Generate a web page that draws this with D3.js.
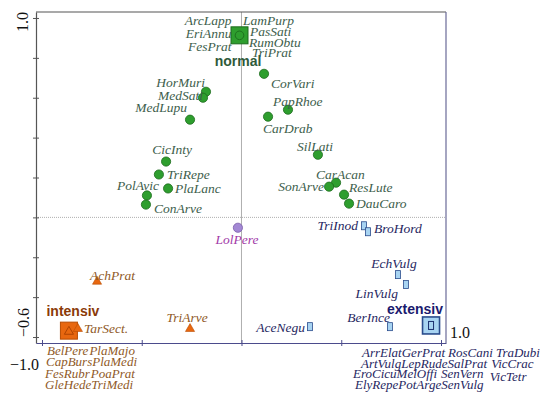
<!DOCTYPE html>
<html>
<head>
<meta charset="utf-8">
<script src="https://cdn.jsdelivr.net/npm/d3@7"></script>
<style>
  body { margin: 0; background: #fff; }
  .lab { font-family: "Liberation Serif", "Times New Roman", serif; font-style: italic; font-size: 13.5px; }
  .grp { font-family: "Liberation Sans", Arial, sans-serif; font-weight: bold; font-size: 14px; }
  .num { font-family: "Liberation Serif", "Times New Roman", serif; font-size: 16px; fill: #111; }
</style>
</head>
<body>
<div id="chart"></div>
<script>
// group centroids (axis 1 / axis 2 scores)
var centroidNames = ["normal", "intensiv", "extensiv"];
var centroidX = [-0.01, -0.865, 0.95];
var centroidY = [0.913, -0.568, -0.542];

// species sitting on top of a centroid
var normalAtCentroid = ["ArcLapp", "EriAnnu", "FesPrat", "LamPurp", "PasSati", "RumObtu", "TriPrat"];
var intensivAtCentroid = ["BelPere", "CapBurs", "FesRubr", "GleHede", "PlaMajo", "PlaMedi", "PoaPrat", "TriMedi"];
var extensivAtCentroid = ["ArrElat", "ArtVulg", "EroCicu", "ElyRepe", "GerPrat", "LepRude", "MelOffi", "PotArge",
                          "RosCani", "SalPrat", "SenVern", "SenVulg", "TraDubi", "VicCrac", "VicTetr"];

// other species
var speciesNames = ["CorVari", "HorMuri", "MedSati", "MedLupu", "PapRhoe", "CarDrab", "CicInty", "TriRepe",
                    "PlaLanc", "PolAvic", "ConArve", "SilLati", "CarAcan", "SonArve", "ResLute", "DauCaro",
                    "LolPere",
                    "TarSect.", "AchPrat", "TriArve",
                    "TriInod", "BroHord", "EchVulg", "LinVulg", "BerInce", "AceNegu"];
var speciesX = [0.113, -0.178, -0.193, -0.258, 0.233, 0.133, -0.378, -0.414,
                -0.368, -0.474, -0.479, 0.383, 0.474, 0.439, 0.514, 0.539,
                -0.018,
                -0.82, -0.724, -0.258,
                0.614, 0.634, 0.784, 0.824, 0.744, 0.343];
var speciesY = [0.72, 0.63, 0.60, 0.49, 0.54, 0.505, 0.28, 0.215,
                0.145, 0.11, 0.064, 0.314, 0.174, 0.154, 0.114, 0.069,
                -0.052,
                -0.559, -0.322, -0.559,
                -0.042, -0.072, -0.287, -0.337, -0.548, -0.548];
var speciesGroup = ["normal", "normal", "normal", "normal", "normal", "normal", "normal", "normal",
                    "normal", "normal", "normal", "normal", "normal", "normal", "normal", "normal",
                    "none",
                    "intensiv", "intensiv", "intensiv",
                    "extensiv", "extensiv", "extensiv", "extensiv", "extensiv", "extensiv"];

var yTicks = [-0.6, -0.4, -0.2, 0, 0.2, 0.4, 0.6, 0.8, 1.0];
var xTicks = [-1, -0.5, 0, 0.5, 1];

// label placement (pixel offsets from the point, anchor)
var labelPos = {
  ArcLapp: [-8, -10, "end"], EriAnnu: [-8, 2.5, "end"], FesPrat: [-8, 16, "end"],
  LamPurp: [3.5, -10.5, "start"], PasSati: [10.5, 0.5, "start"], RumObtu: [9.5, 11.5, "start"], TriPrat: [12.5, 21.5, "start"],
  CorVari: [7, 14, "start"], PapRhoe: [-15, -4, "start"], CarDrab: [-5, 16, "start"],
  HorMuri: [-1, -5, "end"], MedSati: [0, 2, "end"], MedLupu: [-3, -8, "end"],
  CicInty: [6, -8, "middle"], TriRepe: [8, 4, "start"], PolAvic: [12, -5, "end"], PlaLanc: [7, 5, "start"],
  ConArve: [8, 8, "start"], SilLati: [-3, -4, "middle"], CarAcan: [-20, -4, "start"], SonArve: [-5, 4, "end"],
  ResLute: [5, -3, "start"], DauCaro: [7, 4, "start"],
  LolPere: [-1, 16, "middle"],
  "TarSect.": [6, 4, "start"], AchPrat: [-7, -2, "start"], TriArve: [-3, -7, "middle"],
  TriInod: [-6, 4, "end"], BroHord: [6, 1, "start"], EchVulg: [-4, -7, "middle"], LinVulg: [-8, 13, "end"],
  BerInce: [0, -5, "end"], AceNegu: [-5, 5, "end"]
};

var style = {
  normal:   {fill: "#2e9e2e", stroke: "#1c6b1c", text: "#3d5e4c", title: "#2f5a3a"},
  intensiv: {fill: "#e8670f", stroke: "#b84c00", text: "#8f5a28", title: "#8a3a08"},
  extensiv: {fill: "#a8d4f2", stroke: "#2a4c8c", text: "#27275f", title: "#1a1a6e"},
  none:     {fill: "#a388d4", stroke: "#7a5aaa", text: "#a23aa8"}
};

var W = 550, H = 404;
var mLeft = 36, mRight = 446, mTop = 12, mBottom = 343;

var svg = d3.select("#chart").append("svg")
  .attr("width", W).attr("height", H);

var x = d3.scaleLinear().domain([-1.03, 1.025]).range([mLeft, mRight]);
var y = d3.scaleLinear().domain([-0.63, 1.03]).range([mBottom, mTop]);

// zero lines
svg.append("line")
  .attr("x1", x(0)).attr("x2", x(0)).attr("y1", mTop).attr("y2", mBottom)
  .attr("stroke", "#9a9a9a").attr("stroke-width", 0.8);
svg.append("line")
  .attr("x1", mLeft).attr("x2", mRight).attr("y1", y(0)).attr("y2", y(0))
  .attr("stroke", "#9a9a9a").attr("stroke-width", 0.8).attr("stroke-dasharray", "1,1");

// frame
svg.append("line").attr("x1", mLeft).attr("x2", mRight).attr("y1", mTop).attr("y2", mTop)
  .attr("stroke", "#555").attr("stroke-width", 1.2);
svg.append("line").attr("x1", mRight).attr("x2", mRight).attr("y1", mTop).attr("y2", mBottom)
  .attr("stroke", "#6a6a98").attr("stroke-width", 1.2);

// axes
var yAxis = svg.append("g")
  .attr("transform", "translate(" + mLeft + ",0)")
  .call(d3.axisLeft(y).tickValues(yTicks).tickSizeOuter(0).tickFormat(""));
yAxis.select(".domain").attr("stroke", "#555").attr("stroke-width", 1.2);
yAxis.selectAll(".tick line").attr("x1", -3).attr("x2", 3).attr("stroke", "#555");

var xAxis = svg.append("g")
  .attr("transform", "translate(0," + mBottom + ")")
  .call(d3.axisBottom(x).tickValues(xTicks).tickSizeOuter(0).tickFormat(""));
xAxis.select(".domain").attr("stroke", "#4b4b8c").attr("stroke-width", 1.2);
xAxis.selectAll(".tick line").attr("y1", -3).attr("y2", 3).attr("stroke", "#4b4b8c");

// tick labels
svg.append("text").attr("class", "num")
  .attr("transform", "translate(28," + (y(1.0) + 14) + ") rotate(-90)")
  .text("1.0");
svg.append("text").attr("class", "num")
  .attr("transform", "translate(29," + y(-0.6) + ") rotate(-90)")
  .text("\u22120.6");
svg.append("text").attr("class", "num")
  .attr("x", x(-1) - 3).attr("y", 370).attr("text-anchor", "end")
  .text("\u22121.0");
svg.append("text").attr("class", "num")
  .attr("x", x(1) + 9).attr("y", 338)
  .text("1.0");

// build species records
var species = speciesNames.map(function(n, i) {
  return {name: n, x: speciesX[i], y: speciesY[i], group: speciesGroup[i]};
});
var centroids = centroidNames.map(function(n, i) {
  return {name: n, x: centroidX[i], y: centroidY[i]};
});

var tri = d3.symbol().type(d3.symbolTriangle).size(36);

// centroid squares
var cs = 17;
svg.selectAll(".cent")
  .data(centroids)
  .enter().append("rect")
  .attr("class", "cent")
  .attr("x", function(d) { return x(d.x) - cs / 2; })
  .attr("y", function(d) { return y(d.y) - cs / 2; })
  .attr("width", cs).attr("height", cs)
  .attr("fill", function(d) { return style[d.name].fill; })
  .attr("stroke", function(d) { return style[d.name].stroke; })
  .attr("stroke-width", function(d) { return d.name == "extensiv" ? 1.6 : 1; });

// species that sit on the centroids (open symbol inside the square)
svg.append("circle")
  .attr("cx", x(centroidX[0])).attr("cy", y(centroidY[0])).attr("r", 4.3)
  .attr("fill", "none").attr("stroke", "#1c6b1c").attr("stroke-width", 0.9);
svg.append("path")
  .attr("d", tri)
  .attr("transform", "translate(" + x(centroidX[1]) + "," + (y(centroidY[1]) + 1) + ")")
  .attr("fill", "none").attr("stroke", "#a84000").attr("stroke-width", 0.9);
svg.append("rect")
  .attr("x", x(centroidX[2]) - 2.5).attr("y", y(centroidY[2]) - 4)
  .attr("width", 5).attr("height", 8)
  .attr("fill", "#a8d4f2").attr("stroke", "#1a2f6e").attr("stroke-width", 1);

// species points
species.forEach(function(d) {
  var s = style[d.group];
  var px = x(d.x), py = y(d.y);
  if (d.group == "normal" || d.group == "none") {
    svg.append("circle").attr("cx", px).attr("cy", py).attr("r", 4.6)
      .attr("fill", s.fill).attr("stroke", s.stroke).attr("stroke-width", 0.8);
  } else if (d.group == "intensiv") {
    svg.append("path").attr("d", tri)
      .attr("transform", "translate(" + px + "," + py + ")")
      .attr("fill", s.fill).attr("stroke", s.stroke).attr("stroke-width", 0.6);
  } else {
    svg.append("rect").attr("x", px - 2.5).attr("y", py - 4).attr("width", 5).attr("height", 8)
      .attr("fill", s.fill).attr("stroke", s.stroke).attr("stroke-width", 0.8);
  }
});

// species labels
function addLabel(name, px, py, color) {
  var p = labelPos[name];
  svg.append("text").attr("class", "lab")
    .attr("x", px + p[0]).attr("y", py + p[1])
    .attr("text-anchor", p[2])
    .attr("fill", color)
    .text(name);
}
species.forEach(function(d) {
  addLabel(d.name, x(d.x), y(d.y), style[d.group].text);
});
normalAtCentroid.forEach(function(n) {
  addLabel(n, x(centroidX[0]), y(centroidY[0]), style.normal.text);
});

// group names
var grpOff = {normal: [-1.5, 30.5], intensiv: [4, -15], extensiv: [-16, -11]};
centroids.forEach(function(d) {
  svg.append("text").attr("class", "grp")
    .attr("x", x(d.x) + grpOff[d.name][0]).attr("y", y(d.y) + grpOff[d.name][1])
    .attr("text-anchor", "middle")
    .attr("fill", style[d.name].title)
    .text(d.name);
});

// lists of species lying on the intensiv / extensiv centroids, printed under the axis
function listBlock(names, rows, startX, baseY, lineH, gaps, color) {
  for (var r = 0; r < rows; r++) {
    var t = svg.append("text").attr("class", "lab")
      .attr("x", startX[r]).attr("y", baseY + r * lineH)
      .attr("fill", color).style("font-size", "13px");
    var c = 0;
    for (var k = r; k < names.length; k += rows) {
      var g = gaps[r][c] || [0, 0];
      t.append("tspan").attr("dx", g[0]).attr("dy", g[1]).text(names[k]);
      c++;
    }
  }
}
listBlock(intensivAtCentroid, 4, [47, 46, 45, 45], 355, 11.3,
  [[[0, 0], [1, 0]], [[0, 0], [0, 0]], [[0, 0], [1, 0]], [[0, 0], [0, 0]]], "#8f5a28");
listBlock(extensivAtCentroid, 4, [362, 361, 353, 355], 357, 10.5,
  [[[0, 0], [0, 0], [3, 0], [3, 0]],
   [[0, 0], [0, 0], [0, 0], [4, 0]],
   [[0, 0], [0, 0], [4, 0], [6, 3]],
   [[0, 0], [0, 0], [0, 0]]], "#27275f");
</script>
</body>
</html>
